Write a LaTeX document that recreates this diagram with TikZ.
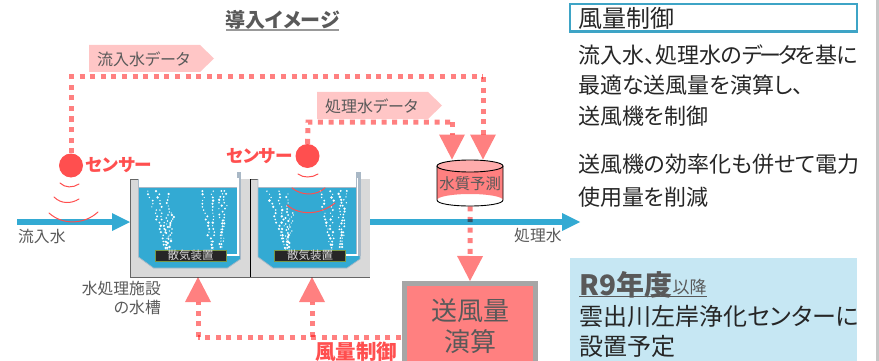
\documentclass[tikz,border=0pt]{standalone}
\usepackage{fontspec}
\setmainfont{Noto Sans CJK JP}[RawFeature={+palt}]
\usetikzlibrary{arrows.meta,calc}
\definecolor{dotpink}{HTML}{FF8080}
\definecolor{senred}{HTML}{FF4F4F}
\definecolor{flowblue}{HTML}{33AAD3}
\definecolor{txtgray}{HTML}{595959}
\definecolor{txtdark}{HTML}{262626}
\definecolor{tankgray}{HTML}{D9D9D9}
\definecolor{pipegray}{HTML}{A9B8C6}
\tikzset{
  x=1pt,y=-1pt,
  dotline/.style={draw=dotpink,line width=5pt,dash pattern=on 5pt off 5.6pt},
  dothead/.style={dotline,-{Triangle[length=25pt,width=26pt,line width=0pt,fill=dotpink,color=dotpink]}},
  flowline/.style={draw=flowblue,line width=6pt,-{Triangle[length=18pt,width=18pt,line width=0pt,fill=flowblue,color=flowblue]}},
  wave/.style={draw=senred,line width=1pt,line cap=round},
  sensor/.style={circle,fill=senred,minimum size=24pt,inner sep=0pt},
  sentext/.style={text=senred,font=\fontsize{17.6}{17.6}\selectfont\bfseries,inner sep=0pt},
  lab/.style={text=txtgray,inner sep=0pt},
  body/.style={text=txtdark,inner sep=0pt,anchor=base west,font=\fontsize{22}{22}\selectfont},
  tag/.style={fill=dotpink!45,draw=none},
}
\newcommand{\tankunit}[1]{%
  \begin{scope}[shift={(#1,0)}]
    \fill[tankgray] (0,179) rectangle (119.5,277);
    \draw[gray!80!black,line width=.6pt] (0,179) -- (0,277) -- (119.5,277);
    \draw[gray!80!black,line width=.6pt] (0,179) -- (8,179);
    \fill[white] (8,179) rectangle (110,187);
    \fill[flowblue] (8,187) -- (8,257) -- (23,268) -- (97,268) -- (110,259) -- (110,187) -- cycle;
    \draw[pipegray,line width=.7pt] (8,179) -- (8,257) -- (23,268) -- (97,268) -- (110,259) -- (110,179);
    \draw[pipegray,line width=.7pt] (8,187) -- (110,187);
    \fill[pipegray] (106,172) rectangle (110.5,256);
    \draw[white,line width=1.2pt] (107.5,178) -- (107.5,255) -- (96,255);
    \foreach \xa/\ya/\xb/\yb in {
      37/251/17/188, 37/251/27/188, 37/251/37/191, 37/251/43/211,
      82/251/70/188, 82/251/82/188, 91/247/90/188, 91/247/96/188}{
      \foreach \t in {0,0.05,...,1}{
        \pgfmathsetmacro{\jx}{\xa+(\xb-\xa)*\t+4*rnd-2}
        \pgfmathsetmacro{\jy}{\ya+(\yb-\ya)*\t}
        \pgfmathsetmacro{\rr}{0.6+0.8*rnd}
        \fill[white] (\jx,\jy) circle[radius=\rr];
      }
    }
    \node[draw={rgb,255:red,120;green,150;blue,70},fill=black!85,line width=.8pt,text=white!85!black,
      minimum width=71pt,minimum height=11pt,inner sep=0pt,font=\fontsize{11.5}{11.5}\selectfont]
      at (60,255.5) {散気装置};
  \end{scope}
}
\begin{document}
\begin{tikzpicture}
\pgfmathsetseed{11}
\useasboundingbox (0,0) rectangle (879,361);
\fill[gray!45] (876,0) rectangle (879,361);

% title
\node[lab,anchor=base,font=\fontsize{20}{20}\selectfont\bfseries] (title) at (282.5,28) {導入イメージ};
\draw[gray!80,line width=1.2pt] (226,30) -- (339,30);

% tanks
\tankunit{130.5}
\tankunit{250}
\draw[black,line width=.8pt] (250,179) -- (250,277);

% flow lines
\coordinate (inStart) at (17,222);
\coordinate (inEnd) at (130,222);
\coordinate (outStart) at (370,222);
\coordinate (outEnd) at (580,222);
\draw[flowline] (inStart) -- (inEnd);
\draw[flowline] (outStart) -- (outEnd);
\node[lab,anchor=base west,font=\fontsize{15.8}{15.8}\selectfont] (inLab) at (18,242) {流入水};
\node[lab,anchor=base west,font=\fontsize{15.8}{15.8}\selectfont] (outLab) at (514,241) {処理水};
\node[lab,anchor=base east,font=\fontsize{15.8}{15.8}\selectfont] (tankLabA) at (161,294) {水処理施設};
\node[lab,anchor=base east,font=\fontsize{15.8}{15.8}\selectfont] (tankLabB) at (161,313) {の水槽};

% tags
\fill[tag] (89,45) -- (200,45) -- (214,58.5) -- (200,72) -- (89,72) -- cycle;
\node[lab,anchor=base west,font=\fontsize{16}{16}\selectfont] (tagA) at (97,65.5) {流入水データ};
\fill[tag] (317,92) -- (428,92) -- (442,105.5) -- (428,119) -- (317,119) -- cycle;
\node[lab,anchor=base west,font=\fontsize{16}{16}\selectfont] (tagB) at (325,112.5) {処理水データ};

% sensors
\node[sensor] (senA) at (71,165.5) {};
\node[sentext,anchor=west] (senAt) at (85,165) {センサー};
\node[sensor] (senB) at (307.5,156) {};
\node[sentext,anchor=east] (senBt) at (293,156) {センサー};
\draw[wave] (60,183) .. controls (65,188) and (73,188) .. (79,184);
\draw[wave] (54,197) .. controls (61,204) and (71,204) .. (79,199);
\draw[wave] (49,213) .. controls (62,225) and (84,225) .. (98,212);
\draw[wave] (298,174) .. controls (303,178) and (312,178) .. (318,174);
\draw[wave] (292,188) .. controls (302,196) and (316,196) .. (325,188);
\draw[wave] (287,205) .. controls (300,216) and (320,215) .. (335,203);

% cylinder
\fill[dotpink] (437,166) -- (437,200) arc[start angle=180,end angle=360,x radius=33,y radius=6] -- (503,166) -- cycle;
\draw[black,line width=.9pt] (437,166) -- (437,200) .. controls (437,208) and (503,208) .. (503,200) -- (503,166);
\draw[black,fill=dotpink!65,line width=.9pt] (470,166) ellipse[x radius=33,y radius=6];
\node[lab,text=txtgray,font=\fontsize{15.4}{15.4}\selectfont,minimum width=66pt,minimum height=46pt,anchor=north west] (pred) at (437,160) {\raisebox{-11pt}{水質予測}};

% calc box
\node[draw=gray!70,fill=dotpink,line width=5pt,minimum width=131pt,minimum height=90pt,anchor=north west,inner sep=0pt] (calc) at (402,281) {};
\node[lab,anchor=base,font=\fontsize{26}{26}\selectfont] (calcA) at (470,320) {送風量};
\node[lab,anchor=base,font=\fontsize{26}{26}\selectfont] (calcB) at (470,351) {演算};

% dotted connectors
\coordinate (cA) at (71,77);
\coordinate (cB) at (483,77);
\coordinate (cC) at (308,122);
\coordinate (cD) at (452,122);
\coordinate (pA) at (483,159.5);
\coordinate (pB) at (452,159.5);
\coordinate (tA) at (198,277);
\coordinate (tB) at (312,277);
\coordinate (dA) at (198,337);
\coordinate (dB) at (312,337);
\coordinate (dE) at (401,337);
\begin{scope}[blend mode=multiply]
\draw[dotline] (senA.north) -- (cA) -- (cB);
\draw[dothead] (cB) -- (pA);
\draw[dotline] (senB.north) -- (cC) -- (cD);
\draw[dothead] (cD) -- (pB);
\draw[dothead] (pred.south) -- (calc.north);
\draw[dotline] (dE) -- (dA);
\draw[dothead] (dA) -- (tA);
\draw[dothead] (dB) -- (tB);
\end{scope}
\node[text=senred,inner sep=0pt,anchor=base,font=\fontsize{20.5}{20.5}\selectfont\bfseries] (ctl) at (356,359.5) {風量制御};

% right panel
\node[draw=flowblue!85!gray,line width=2.2pt,fill=white,minimum width=286.8pt,minimum height=27.2pt,anchor=north west,inner sep=0pt] (headBox) at (569,3.3) {};
\node[body,font=\fontsize{24}{24}\selectfont] (head) at (578,28) {風量制御};
\node[body] (l1) at (578,63.5) {流入水、処理水のデ\kern-3pt ー\kern-3pt タ\kern-3pt を基に};
\node[body] (l2) at (578,93.5) {最適な送風量を演算し、};
\node[body] (l3) at (578,124.5) {送風機を制御};
\node[body] (l4) at (578,172.5) {送風機の効率化も併せて電力};
\node[body] (l5) at (578,205.5) {使用量を削減};

\fill[flowblue!28] (570,258) rectangle (857,361);
\node[lab,anchor=base west,font=\fontsize{28}{28}\selectfont\bfseries] (r9) at (579,295) {R9年度};
\node[lab,anchor=base west,font=\fontsize{17}{17}\selectfont] (r9b) at (672.5,293) {以降};
\draw[txtgray,line width=1.2pt] (579,296.5) -- (707,296.5);
\node[body,font=\fontsize{24}{24}\selectfont] (m1) at (579,325) {雲出川左岸浄化センターに};
\node[body,font=\fontsize{24}{24}\selectfont] (m2) at (579,355) {設置予定};
\end{tikzpicture}
\end{document}
